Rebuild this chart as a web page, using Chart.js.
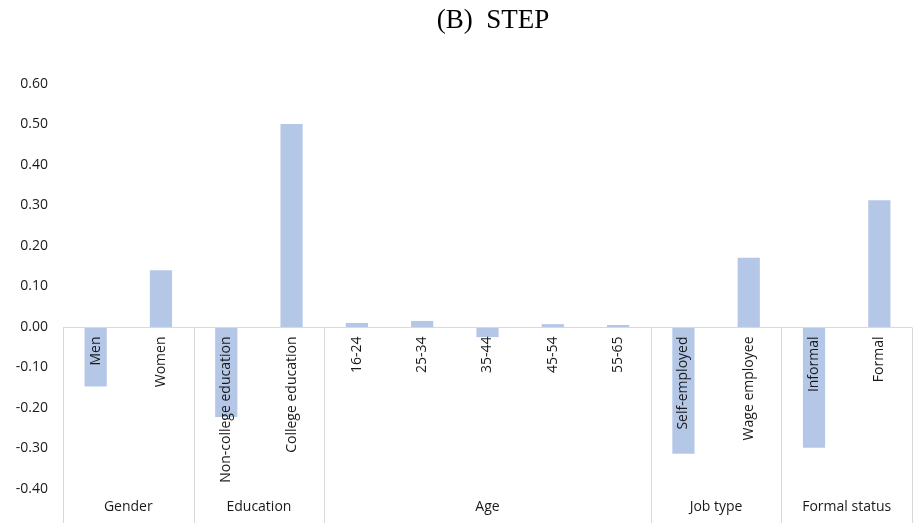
<!DOCTYPE html>
<html>
<head>
<meta charset="utf-8">
<script src="https://cdn.jsdelivr.net/npm/chart.js@4"></script>
<style>
  html, body { margin: 0; padding: 0; background: #fff; }
  #wrap { width: 913px; height: 523px; }
</style>
</head>
<body>
<div id="wrap"><canvas id="c" width="913" height="523"></canvas></div>
<script>
// categories and values
const labels = ['Men', 'Women', 'Non-college education', 'College education',
  '16-24', '25-34', '35-44', '45-54', '55-65',
  'Self-employed', 'Wage employee', 'Informal', 'Formal'];
const values = [-0.147, 0.140, -0.222, 0.501,
  0.010, 0.015, -0.025, 0.007, 0.005,
  -0.313, 0.171, -0.298, 0.313];
const groupNames = ['Gender', 'Education', 'Age', 'Job type', 'Formal status'];
const groupSizes = [2, 2, 5, 2, 2];

const lineColor = '#d9d9d9';
const textColor = '#1a1a1a';
const labelFont = '14px "Open Sans", "Noto Sans", sans-serif';

// 軸・区切り線・ラベルを描く
const decorPlugin = {
  id: 'decor',
  afterDatasetsDraw(chart) {
    const { ctx, chartArea, scales } = chart;
    const x = scales.x, y = scales.y;
    const zeroY = Math.round(y.getPixelForValue(0)) + 0.5;
    const left = chartArea.left, right = chartArea.right;
    const step = (right - left) / labels.length;
    ctx.save();
    ctx.strokeStyle = lineColor;
    ctx.lineWidth = 1;
    // zero line
    ctx.beginPath();
    ctx.moveTo(left, zeroY);
    ctx.lineTo(right, zeroY);
    ctx.stroke();
    // group separators
    let idx = 0;
    const bounds = [0];
    groupSizes.forEach(n => { idx += n; bounds.push(idx); });
    bounds.forEach(b => {
      const px = Math.round(left + b * step) + 0.5;
      ctx.beginPath();
      ctx.moveTo(px, zeroY);
      ctx.lineTo(px, chart.height);
      ctx.stroke();
    });
    // rotated category labels
    ctx.fillStyle = textColor;
    ctx.font = labelFont;
    labels.forEach((lab, i) => {
      const cx = x.getPixelForValue(i);
      ctx.save();
      ctx.translate(cx, zeroY + 9);
      ctx.rotate(-Math.PI / 2);
      ctx.textAlign = 'right';
      ctx.textBaseline = 'middle';
      ctx.fillText(lab, 0, 0);
      ctx.restore();
    });
    // group labels
    ctx.textAlign = 'center';
    ctx.textBaseline = 'middle';
    groupNames.forEach((g, i) => {
      const cx = left + (bounds[i] + bounds[i + 1]) / 2 * step;
      ctx.fillText(g, cx, 507);
    });
    // title
    ctx.font = '27px "Liberation Serif", "DejaVu Serif", serif';
    ctx.fillStyle = '#000';
    ctx.fillText('(B)  STEP', 493, 21);
    ctx.restore();
  }
};

new Chart(document.getElementById('c'), {
  type: 'bar',
  data: {
    labels: labels,
    datasets: [{
      data: values,
      backgroundColor: '#b4c7e7',
      borderWidth: 0,
      categoryPercentage: 1,
      barPercentage: 0.34
    }]
  },
  options: {
    responsive: false,
    animation: false,
    layout: { padding: { top: 84, bottom: 34, left: 0, right: 1 } },
    plugins: { legend: { display: false }, tooltip: { enabled: false } },
    scales: {
      x: { display: false },
      y: {
        min: -0.4, max: 0.6,
        afterFit(scale) { scale.width = 63; },
        grid: { display: false, drawTicks: false },
        border: { display: false },
        ticks: {
          stepSize: 0.1,
          padding: 15,
          color: textColor,
          font: { family: '"Open Sans", "Noto Sans", sans-serif', size: 14 },
          callback: v => v.toFixed(2)
        }
      }
    }
  },
  plugins: [decorPlugin]
});
</script>
</body>
</html>
